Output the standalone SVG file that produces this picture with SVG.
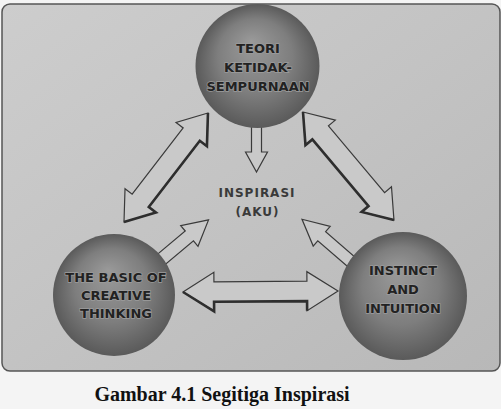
<svg xmlns="http://www.w3.org/2000/svg" width="501" height="409" viewBox="0 0 501 409">
  <defs>
    <linearGradient id="bg" x1="0" y1="0" x2="1" y2="1">
      <stop offset="0" stop-color="#cdcdcd"/>
      <stop offset="0.5" stop-color="#c3c3c3"/>
      <stop offset="1" stop-color="#b8b8b8"/>
    </linearGradient>
    <radialGradient id="sphere" cx="0.5" cy="0.5" r="0.5" fx="0.45" fy="0.3">
      <stop offset="0" stop-color="#9a9a9a"/>
      <stop offset="0.6" stop-color="#7e7e7e"/>
      <stop offset="1" stop-color="#5a5a5a"/>
    </radialGradient>
  </defs>
  <style>
    .arrow { fill: #c9c9c9; stroke: #3a3a3a; stroke-width: 1.2; stroke-linejoin: miter; }
    .shadow { fill: none; stroke: #2e2e2e; stroke-width: 2.6; stroke-linejoin: miter; }
    .ball { fill: url(#sphere); }
    .lbl { font-family: "DejaVu Sans", "Liberation Sans", sans-serif; font-weight: bold; font-size: 13px; fill: #222; text-anchor: middle; stroke: #9c9c9c; stroke-width: 1.4; paint-order: stroke; }
    .center { font-family: "DejaVu Sans", "Liberation Sans", sans-serif; font-weight: bold; font-size: 12px; fill: #3a3a3a; text-anchor: middle; letter-spacing: 1px; }
    .caption { font-family: "Liberation Serif", "Times New Roman", serif; font-weight: bold; font-size: 20px; fill: #111; text-anchor: middle; }
  </style>
  <rect x="0" y="0" width="501" height="409" fill="#f4f4f4"/>
  <rect x="2" y="4" width="498" height="367" rx="8" fill="url(#bg)" stroke="#555" stroke-width="1.5"/>

  <g id="connectors">
    <!-- top-left double arrow -->
    <g transform="translate(124,222) rotate(-52.4)">
      <polygon class="arrow" points="0,0 27,-19.5 27,-10.5 110.6,-10.5 110.6,-19.5 137.6,0 110.6,19.5 110.6,10.5 27,10.5 27,19.5"/>
      <polyline class="shadow" points="0,0 27,19.5 27,10.5 110.6,10.5 110.6,19.5 137.6,0"/>
    </g>
    <!-- top-right double arrow -->
    <g transform="translate(303,112) rotate(49.9)">
      <polygon class="arrow" points="0,0 27,-19.5 27,-10.5 114.2,-10.5 114.2,-19.5 141.2,0 114.2,19.5 114.2,10.5 27,10.5 27,19.5"/>
      <polyline class="shadow" points="0,0 27,19.5 27,10.5 114.2,10.5 114.2,19.5 141.2,0"/>
    </g>
    <!-- bottom double arrow -->
    <g transform="translate(183,292) rotate(-0.4)">
      <polygon class="arrow" points="0,0 31,-19.5 31,-10 124,-10 124,-19.5 155,0 124,19.5 124,10 31,10 31,19.5"/>
      <polyline class="shadow" points="0,0 31,19.5 31,10 124,10 124,19.5"/>
    </g>
    <!-- top sphere to center -->
    <g transform="translate(256.5,110) rotate(90)">
      <polygon class="arrow" points="0,-5 42,-5 42,-11 62,0 42,11 42,5 0,5"/>
    </g>
    <!-- bottom-left sphere to center -->
    <g transform="translate(151,268) rotate(-39.9)">
      <polygon class="arrow" points="0,-6.4 50,-6.4 50,-13.5 75,0 50,13.5 50,6.4 0,6.4"/>
    </g>
    <!-- bottom-right sphere to center -->
    <g transform="translate(355,265) rotate(220.8)">
      <polygon class="arrow" points="0,-6 44,-6 44,-13 70,0 44,13 44,6 0,6"/>
    </g>
  </g>

  <g id="node-teori">
    <circle class="ball" cx="257.5" cy="66" r="62"/>
    <text class="lbl" x="258" y="53">TEORI</text>
    <text class="lbl" x="258" y="72">KETIDAK-</text>
    <text class="lbl" x="258" y="91">SEMPURNAAN</text>
  </g>

  <g id="node-basic">
    <circle class="ball" cx="114" cy="295" r="61"/>
    <text class="lbl" x="116" y="282">THE BASIC OF</text>
    <text class="lbl" x="116" y="300">CREATIVE</text>
    <text class="lbl" x="116" y="318">THINKING</text>
  </g>

  <g id="node-instinct">
    <circle class="ball" cx="403" cy="296" r="64"/>
    <text class="lbl" x="403" y="275">INSTINCT</text>
    <text class="lbl" x="403" y="294">AND</text>
    <text class="lbl" x="403" y="313">INTUITION</text>
  </g>

  <g id="node-inspirasi">
    <text class="center" x="257" y="197">INSPIRASI</text>
    <text class="center" x="257.5" y="216">(AKU)</text>
  </g>

  <text class="caption" x="222" y="401">Gambar 4.1 Segitiga Inspirasi</text>
</svg>
